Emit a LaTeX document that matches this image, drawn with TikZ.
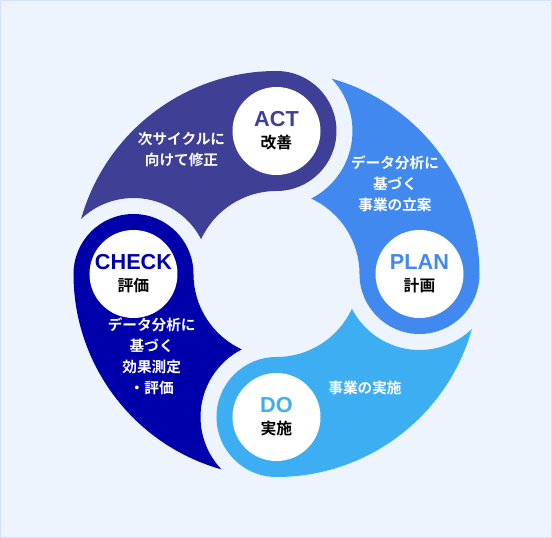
\documentclass[tikz,border=0pt]{standalone}
\usepackage{fontspec}
\setmainfont{Liberation Sans}
\newfontfamily\jpfont{Noto Sans CJK JP}[BoldFont={Noto Sans CJK JP Bold}]
\usepackage{xcolor}
\usepackage{tikz}
\usetikzlibrary{positioning}

\definecolor{bgblue}{HTML}{EDF4FE}
\definecolor{edgeblue}{HTML}{D3E3F9}
\definecolor{actcol}{HTML}{3F3F95}
\definecolor{plancol}{HTML}{4189EE}
\definecolor{docol}{HTML}{3DAEF2}
\definecolor{checkcol}{HTML}{0000AA}

% one swirl of the cycle: head at angle #1, tail trailing behind it
\newcommand{\swirl}[2]{%
  \fill[#2, rotate=#1] (74.26:203) arc[start angle=74.26, end angle=0, radius=203]
    arc[start angle=0, end angle=-180, radius=60]
    arc[start angle=0, end angle=65.28, radius=83]
    arc[start angle=-62.82, end angle=43.56, radius=76] -- cycle;}

\tikzset{
  headcirc/.style={circle, fill=white, minimum size=2.64cm, inner sep=0pt, align=center,
    font=\bfseries\fontsize{18.5}{19}\selectfont},
  bodytext/.style={text=white, align=center, font=\jpfont\bfseries\fontsize{12.5}{18}\selectfont}
}
\newcommand{\jpsub}[1]{{\color{black}\jpfont\fontsize{13.5}{16}\selectfont #1}}

\begin{document}
\begin{tikzpicture}[scale=0.03]
    % Background
    \useasboundingbox (-276.5,-264) rectangle (275.5,274);
    \fill[bgblue] (-276.5,-264) rectangle (275.5,274);
    \draw[edgeblue, line width=0.04cm] (-275.8,-263.3) rectangle (274.8,273.3);

    % Swirls (PLAN -> DO -> CHECK -> ACT)
    \swirl{0}{plancol}
    \swirl{-90}{docol}
    \swirl{180}{checkcol}
    \swirl{90}{actcol}

    % Heads
    \node[headcirc, text=actcol] (act) at (90:143) {ACT\\\jpsub{改善}};
    \node[headcirc, text=plancol] (plan) at (0:143) {PLAN\\\jpsub{計画}};
    \node[headcirc, text=docol] (do) at (-90:143) {DO\\\jpsub{実施}};
    \node[headcirc, text=checkcol] (check) at (180:143) {CHECK\\\jpsub{評価}};

    % Descriptions
    \node[bodytext] (acttxt) at (-95,124.5) {次サイクルに\\向けて修正};
    \node[bodytext] (plantxt) at (118.5,90) {データ分析に\\基づく\\事業の立案};
    \node[bodytext] (dotxt) at (88.5,-114) {事業の実施};
    \node[bodytext] (checktxt) at (-124.8,-82) {データ分析に\\基づく\\効果測定\\・評価};
\end{tikzpicture}
\end{document}
